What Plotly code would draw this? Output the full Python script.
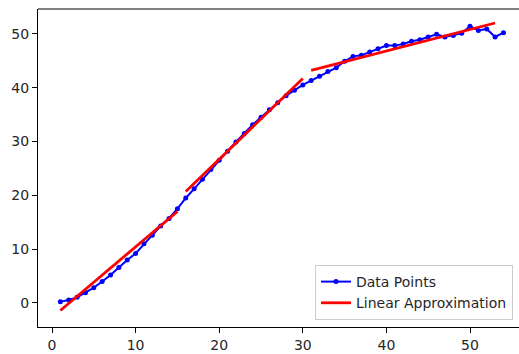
import plotly.graph_objects as go

x_data = list(range(1, 55))
y_data = [0.25, 0.55, 1.05, 1.9, 2.85, 4.0, 5.2, 6.6, 8.0, 9.2,
          11.0, 12.6, 14.3, 15.7, 17.5, 19.5, 21.2, 23.0, 24.8, 26.5,
          28.2, 29.9, 31.5, 33.1, 34.5, 35.9, 37.2, 38.5, 39.5, 40.5,
          41.3, 42.1, 43.0, 43.7, 44.9, 45.8, 46.0, 46.6, 47.2, 47.8,
          47.8, 48.1, 48.6, 48.9, 49.4, 49.9, 49.4, 49.7, 50.1, 51.4,
          50.6, 50.9, 49.4, 50.2]

seg_x_start = [1, 16, 31]
seg_x_end = [15, 30, 53]
seg_y_start = [-1.4, 20.7, 43.2]
seg_y_end = [17.0, 41.7, 52.0]

x_ticks = [0, 10, 20, 30, 40, 50]
y_ticks = [0, 10, 20, 30, 40, 50]

lx, ly = [], []
for xs, xe, ys, ye in zip(seg_x_start, seg_x_end, seg_y_start, seg_y_end):
    lx += [xs, xe, None]
    ly += [ys, ye, None]

fig = go.Figure()
fig.add_trace(go.Scatter(x=x_data, y=y_data, mode="lines+markers", name="Data Points",
                         line=dict(color="#0000ff", width=2),
                         marker=dict(color="#0000ff", size=5)))
fig.add_trace(go.Scatter(x=lx, y=ly, mode="lines", name="Linear Approximation",
                         line=dict(color="#ff0000", width=2.8), connectgaps=False))

font = dict(family="DejaVu Sans", size=14, color="#262626")
fig.update_layout(
    width=519, height=354,
    margin=dict(l=38, r=0, t=9, b=27),
    plot_bgcolor="white", paper_bgcolor="white",
    font=font,
    showlegend=True,
    legend=dict(x=0.9875, y=0.022, xanchor="right", yanchor="bottom",
                bgcolor="rgba(255,255,255,0.8)", bordercolor="#cccccc", borderwidth=1,
                font=dict(family="DejaVu Sans", size=14, color="#262626"),
                itemwidth=30, tracegroupgap=0),
    xaxis=dict(range=[-1.675, 55.86], tickvals=x_ticks, ticktext=[str(v) for v in x_ticks],
               showgrid=False, zeroline=False, showline=True, linecolor="black", linewidth=1,
               ticks="outside", ticklen=5, tickwidth=1, tickcolor="black", mirror=False),
    yaxis=dict(range=[-4.46, 54.6], tickvals=y_ticks, ticktext=[str(v) for v in y_ticks],
               showgrid=False, zeroline=False, showline=True, linecolor="black", linewidth=1,
               ticks="outside", ticklen=5, tickwidth=1, tickcolor="black", mirror=False),
    shapes=[dict(type="line", xref="paper", yref="paper", x0=0, x1=1, y0=1, y1=1,
                 line=dict(color="black", width=1))],
)

fig.write_html("out.html")
